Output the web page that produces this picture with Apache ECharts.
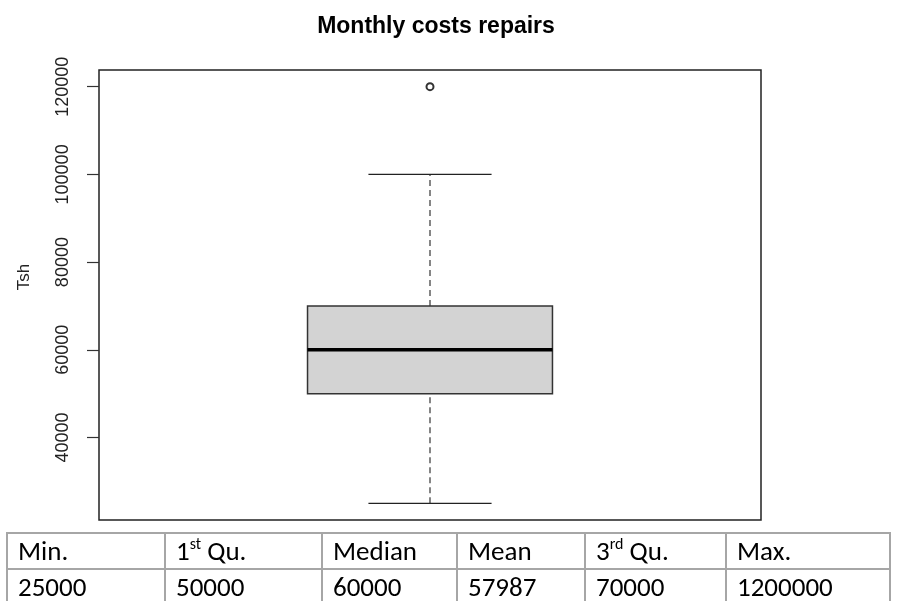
<!DOCTYPE html>
<html>
<head>
<meta charset="utf-8">
<script src="https://cdn.jsdelivr.net/npm/echarts@6/dist/echarts.min.js"></script>
<style>
  html, body { margin: 0; padding: 0; background: #fff; }
  #wrap { position: relative; width: 902px; height: 601px; overflow: hidden; }
  #chart { position: absolute; left: 0; top: 0; width: 902px; height: 601px; }
  #stats {
    position: absolute; left: 6px; top: 532px;
    border-collapse: collapse;
    table-layout: fixed;
    font-family: Carlito, Lato, "Open Sans", sans-serif;
    font-size: 27px; color: #000;
  }
  #stats td {
    border: 2px solid #a6a6a6;
    padding: 0 0 0 10px;
    height: 34px; line-height: 34px;
    white-space: nowrap;
    box-sizing: border-box;
  }
  #stats sup { font-size: 16px; line-height: 0; vertical-align: 11px; }
</style>
</head>
<body>
<div id="wrap">
  <div id="chart"></div>
  <table id="stats"></table>
</div>
<script>
// five-number summary of the box (min, Q1, median, Q3, upper whisker)
const boxStats = [25000, 50000, 60000, 70000, 100000]
const outliers = [120000]
const yTicks = [40000, 60000, 80000, 100000, 120000]

// summary table under the plot
const statLabels = ['Min.', '1<sup>st</sup> Qu.', 'Median', 'Mean', '3<sup>rd</sup> Qu.', 'Max.']
const statValues = ['25000', '50000', '60000', '57987', '70000', '1200000']
const colWidths = [158, 157, 135, 128, 141, 164]

const table = document.getElementById('stats')
const row1 = table.insertRow()
const row2 = table.insertRow()
statLabels.forEach((label, i) => {
  const c = row1.insertCell()
  c.innerHTML = label
  c.style.width = colWidths[i] + 'px'
  row2.insertCell().textContent = statValues[i]
})

const chart = echarts.init(document.getElementById('chart'))

function renderBox(params, api) {
  const x = api.value(0)
  const lo = api.coord([x, api.value(1)])
  const q1 = api.coord([x, api.value(2)])
  const med = api.coord([x, api.value(3)])
  const q3 = api.coord([x, api.value(4)])
  const hi = api.coord([x, api.value(5)])
  const boxL = api.coord([x - 0.185, 0])[0]
  const boxR = api.coord([x + 0.185, 0])[0]
  const capL = api.coord([x - 0.093, 0])[0]
  const capR = api.coord([x + 0.093, 0])[0]
  const dash = { stroke: '#444', lineWidth: 1.3, lineDash: [6, 4] }
  const solid = { stroke: '#222', lineWidth: 1.3 }
  return {
    type: 'group',
    children: [
      { type: 'line', shape: { x1: lo[0], y1: lo[1], x2: q1[0], y2: q1[1] }, style: dash },
      { type: 'line', shape: { x1: q3[0], y1: q3[1], x2: hi[0], y2: hi[1] }, style: dash },
      { type: 'line', shape: { x1: capL, y1: lo[1], x2: capR, y2: lo[1] }, style: solid },
      { type: 'line', shape: { x1: capL, y1: hi[1], x2: capR, y2: hi[1] }, style: solid },
      {
        type: 'rect',
        shape: { x: boxL, y: q3[1], width: boxR - boxL, height: q1[1] - q3[1] },
        style: { fill: '#d3d3d3', stroke: '#333', lineWidth: 1.5 }
      },
      { type: 'line', shape: { x1: boxL, y1: med[1], x2: boxR, y2: med[1] }, style: { stroke: '#000', lineWidth: 3.5 } }
    ]
  }
}

chart.setOption({
  animation: false,
  backgroundColor: '#fff',
  title: {
    text: 'Monthly costs repairs',
    left: 431,
    top: 10,
    textAlign: 'center',
    textStyle: { fontFamily: 'Liberation Sans, Arial, sans-serif', fontWeight: 'bold', fontSize: 23, color: '#000' }
  },
  grid: {
    left: 99, right: 141, top: 70, bottom: 81,
    show: true, borderColor: '#222', borderWidth: 1.5, backgroundColor: 'transparent'
  },
  xAxis: {
    type: 'value', min: 0.5, max: 1.5,
    show: false
  },
  yAxis: {
    type: 'value', min: 21200, max: 123800,
    name: 'Tsh',
    nameLocation: 'middle',
    nameGap: 66,
    nameTextStyle: { fontFamily: 'Liberation Sans, Arial, sans-serif', fontSize: 17, color: '#222', padding: [0, 0, 0, 36] },
    splitLine: { show: false },
    axisLine: { show: false },
    axisTick: { show: true, length: 12, customValues: yTicks, lineStyle: { color: '#333', width: 1.2 } },
    axisLabel: {
      customValues: yTicks,
      rotate: 90,
      margin: 27,
      formatter: v => String(v),
      fontFamily: 'Liberation Sans, Arial, sans-serif',
      fontSize: 18,
      color: '#222'
    }
  },
  series: [
    {
      type: 'custom',
      renderItem: renderBox,
      data: [[1, ...boxStats]],
      z: 2
    },
    {
      type: 'scatter',
      symbol: 'emptyCircle',
      symbolSize: 7,
      itemStyle: { color: '#000', borderColor: '#000', borderWidth: 1 },
      data: outliers.map(v => [1, v]),
      z: 3
    }
  ]
})
</script>
</body>
</html>
